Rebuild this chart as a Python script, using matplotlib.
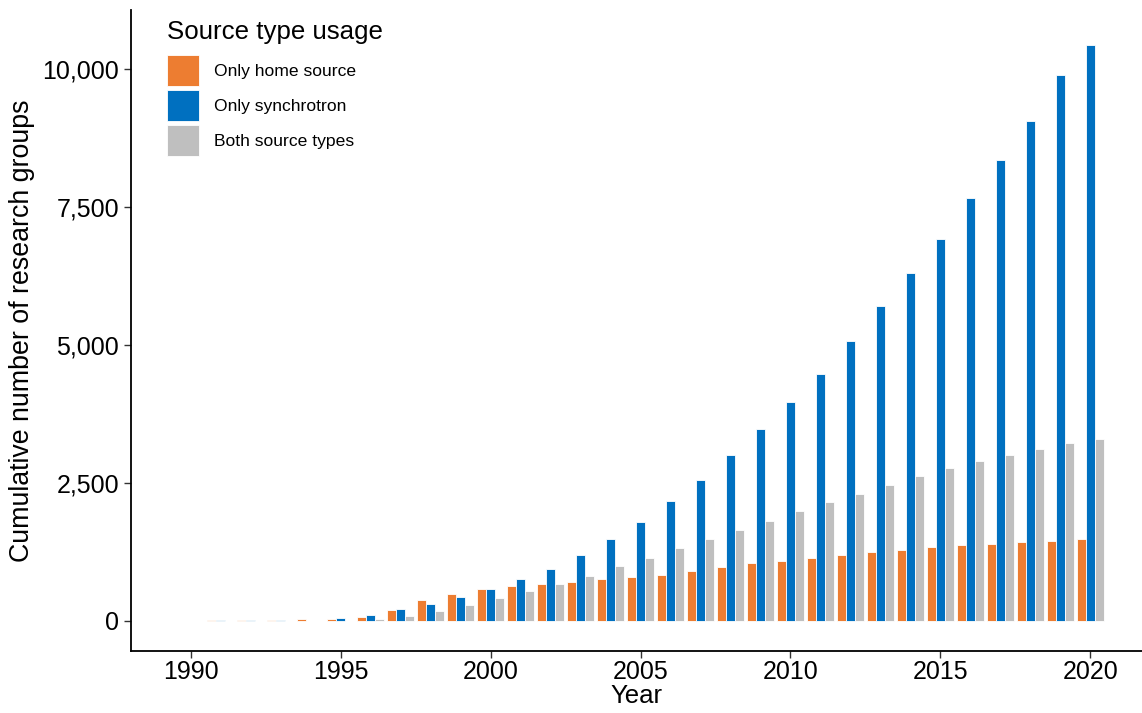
import matplotlib.pyplot as plt
import numpy as np
from matplotlib.ticker import FuncFormatter

plt.rcParams['font.family'] = ['Liberation Sans', 'DejaVu Sans']

years = list(range(1990, 2021))
home_only = [8, 18, 18, 25, 30, 36, 78, 199, 374, 495,
             574, 634, 670, 707, 761, 797, 833, 906, 978, 1051,
             1087, 1140, 1196, 1250, 1286, 1340, 1377, 1395, 1431, 1449, 1486]
sync_only = [5, 15, 10, 12, 8, 48, 109, 217, 314, 435,
             580, 761, 942, 1196, 1486, 1793, 2174, 2554, 3007, 3478,
             3967, 4475, 5072, 5706, 6300, 6920, 7663, 8351, 9058, 9880, 10435]
both_types = [3, 5, 8, 5, 5, 5, 30, 85, 175, 284,
              417, 543, 670, 815, 996, 1141, 1322, 1486, 1649, 1812,
              1993, 2156, 2300, 2464, 2627, 2772, 2899, 3007, 3116, 3225, 3297]

labels = ["Only home source", "Only synchrotron", "Both source types"]
colors = ["#ED7D31", "#0070C0", "#BFBFBF"]

fig = plt.figure(figsize=(11.42, 7.13), dpi=100)
ax = fig.add_axes([0.1147, 0.087, 0.8853, 0.899])

x = np.array(years)
w = 0.3
handles = []
for off, vals, lab, col in zip([-w, 0, w], [home_only, sync_only, both_types], labels, colors):
    b = ax.bar(x + off, vals, width=w, color=col, edgecolor="white", linewidth=0.6, label=lab)
    handles.append(b)

top = max(sync_only)
ax.set_ylim(-0.052 * top, 1.06 * top)
ax.set_xlim(1988.0, 2021.73)

ax.set_xticks(range(1990, 2021, 5))
ax.set_yticks([0, 2500, 5000, 7500, 10000])
ax.yaxis.set_major_formatter(FuncFormatter(lambda v, p: f"{int(v):,}"))

for s in ["top", "right"]:
    ax.spines[s].set_visible(False)
for s in ["left", "bottom"]:
    ax.spines[s].set_linewidth(1.3)
ax.tick_params(axis="both", direction="out", length=5, width=1, labelsize=18,
               colors="#333333", labelcolor="black")
ax.tick_params(axis="x", pad=1.5)

ax.set_xlabel("Year", fontsize=18.5, labelpad=0)
ax.set_ylabel("Cumulative number of research groups", fontsize=19.3, labelpad=5)

leg = ax.legend(handles=handles, title="Source type usage", loc="upper left",
                bbox_to_anchor=(0.036, 0.985), frameon=False, fontsize=12.6,
                title_fontsize=18.6, handlelength=1.83, handleheight=2.4,
                labelspacing=0.2, handletextpad=0.85, borderpad=0,
                borderaxespad=0, alignment="left")
leg._legend_box.sep = 8  # a bit more room under the title

plt.savefig("out.png", dpi=100, facecolor="white")
plt.close()
